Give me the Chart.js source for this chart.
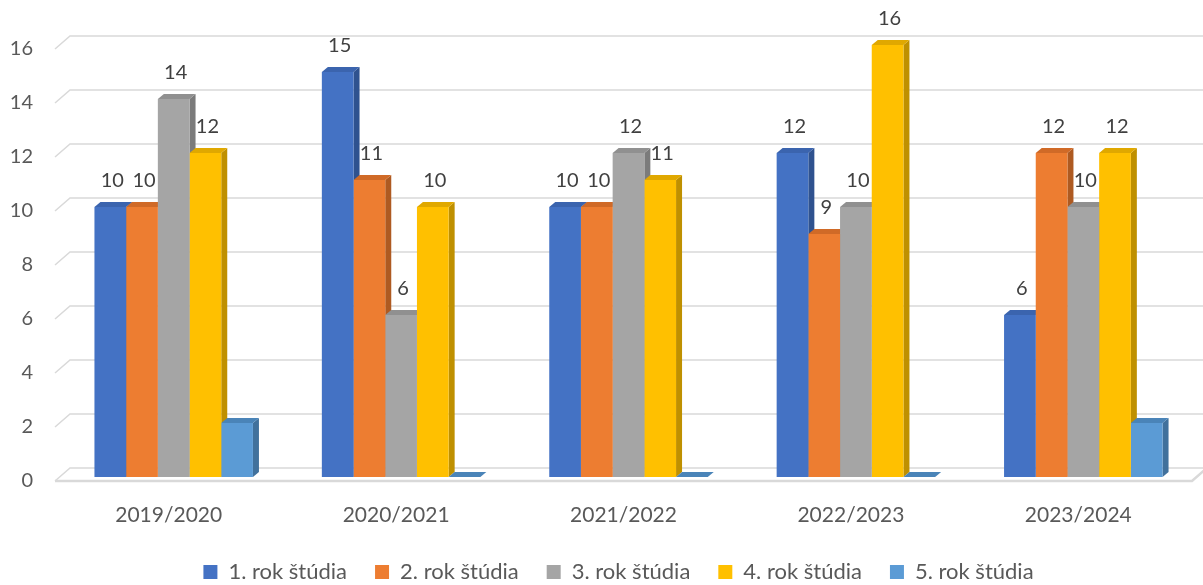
<!DOCTYPE html>
<html>
<head>
<meta charset="utf-8">
<script src="https://cdn.jsdelivr.net/npm/chart.js@4/dist/chart.umd.min.js"></script>
<style>
    html, body { margin: 0; padding: 0; background: #ffffff; }
    #wrap { width: 1203px; height: 585px; }
</style>
</head>
<body>
<div id="wrap"><canvas id="chart" width="1203" height="585"></canvas></div>
<script>
const categories = ['2019/2020', '2020/2021', '2021/2022', '2022/2023', '2023/2024'];
const seriesNames = ['1. rok štúdia', '2. rok štúdia', '3. rok štúdia', '4. rok štúdia', '5. rok štúdia'];
const rok1 = [10, 15, 10, 12, 6];
const rok2 = [10, 11, 10, 9, 12];
const rok3 = [14, 6, 12, 10, 10];
const rok4 = [12, 10, 11, 16, 12];
const rok5 = [2, 0, 0, 0, 2];
const yTicks = [0, 2, 4, 6, 8, 10, 12, 14, 16];

const fronts = ['#4472C4', '#ED7D31', '#A5A5A5', '#FFC000', '#5B9BD5'];
const tops = ['#3B64AE', '#D06A27', '#909090', '#E0A800', '#4A84B8'];
const sides = ['#2F528F', '#AE5A21', '#7B7B7B', '#BF9000', '#41719C'];
// the 5th series has no value labels in the original
const showLabels = [true, true, true, true, false];

// 3d look: bar depth and wall depth
const barDx = 6, barDy = -5;
const wallDx = 15, wallDy = -13;

const wall3d = {
    id: 'wall3d',
    beforeInit(chart) {
        // legend sits lower and tighter than chart.js would place it
        const fit = chart.legend.fit;
        chart.legend.fit = function () {
            fit.call(this);
            this.height = 56;
        };
    },
    afterLayout(chart) {
        // nudge legend a bit right and down
        chart.legend.left += 20;
        chart.legend.right += 20;
        chart.legend.top += 4;
        chart.legend.bottom += 4;
    },
    beforeDatasetsDraw(chart) {
        const ctx = chart.ctx;
        const area = chart.chartArea;
        const y = chart.scales.y;
        ctx.save();
        ctx.strokeStyle = '#D9D9D9';
        ctx.lineWidth = 1.5;
        yTicks.forEach(v => {
            const py = y.getPixelForValue(v) + 4;
            ctx.beginPath();
            ctx.moveTo(area.left - 5, py);
            ctx.lineTo(area.left - 5 + wallDx, py + wallDy);
            ctx.lineTo(chart.width, py + wallDy);
            ctx.stroke();
        });
        // floor front edge
        const p0 = y.getPixelForValue(0) + 4;
        ctx.lineWidth = 2.5;
        ctx.beginPath();
        ctx.moveTo(area.left - 5, p0);
        ctx.lineTo(area.right - 5, p0);
        ctx.lineTo(area.right - 5 + wallDx, p0 + wallDy);
        ctx.stroke();

        // sides and tops of the columns, left to right in each group
        for (let i = 0; i < categories.length; i++) {
            chart.data.datasets.forEach((ds, di) => {
                const bar = chart.getDatasetMeta(di).data[i];
                const left = bar.x - bar.width / 2;
                const right = bar.x + bar.width / 2;
                const top = bar.y;
                const bottom = bar.base;
                ctx.fillStyle = sides[di];
                ctx.beginPath();
                ctx.moveTo(right, top);
                ctx.lineTo(right + barDx, top + barDy);
                ctx.lineTo(right + barDx, bottom + barDy);
                ctx.lineTo(right, bottom);
                ctx.closePath();
                ctx.fill();
                ctx.fillStyle = tops[di];
                ctx.beginPath();
                ctx.moveTo(left, top);
                ctx.lineTo(right, top);
                ctx.lineTo(right + barDx, top + barDy);
                ctx.lineTo(left + barDx, top + barDy);
                ctx.closePath();
                ctx.fill();
            });
        }
        ctx.restore();
    },
    afterDatasetsDraw(chart) {
        const ctx = chart.ctx;
        ctx.save();
        ctx.font = '20px Lato';
        ctx.fillStyle = '#404040';
        ctx.textAlign = 'center';
        ctx.textBaseline = 'middle';
        chart.data.datasets.forEach((ds, di) => {
            if (!showLabels[di]) return;
            chart.getDatasetMeta(di).data.forEach((bar, i) => {
                const v = ds.data[i];
                if (!v) return;
                ctx.fillText(String(v), bar.x + 2, bar.y - 26);
            });
        });
        ctx.restore();
    }
};

const datasets = [rok1, rok2, rok3, rok4, rok5].map((vals, i) => ({
    label: seriesNames[i],
    data: vals,
    backgroundColor: fronts[i],
    borderWidth: 0,
    barPercentage: 1.0,
    categoryPercentage: 0.697
}));

new Chart(document.getElementById('chart'), {
    type: 'bar',
    data: { labels: categories, datasets: datasets },
    plugins: [wall3d],
    options: {
        responsive: false,
        animation: false,
        layout: { padding: { top: 45, right: 6, left: 0, bottom: 0 } },
        scales: {
            x: {
                afterFit: (scale) => { scale.height = 52; },
                grid: { display: false, drawTicks: false },
                border: { display: false },
                ticks: {
                    color: '#595959',
                    font: { family: 'Lato', size: 21 },
                    padding: 26,
                    labelOffset: -5
                }
            },
            y: {
                min: 0,
                max: 16,
                afterBuildTicks: (scale) => { scale.ticks = yTicks.map(v => ({ value: v })); },
                afterFit: (scale) => { scale.width = 60; },
                grid: { display: false, drawTicks: false },
                border: { display: false },
                ticks: {
                    color: '#595959',
                    font: { family: 'Lato', size: 20 },
                    padding: 27,
                    labelOffset: 4
                }
            }
        },
        plugins: {
            tooltip: { enabled: false },
            legend: {
                position: 'bottom',
                labels: {
                    color: '#595959',
                    font: { family: 'Lato', size: 22 },
                    boxWidth: 14,
                    boxHeight: 14,
                    padding: 28
                }
            }
        }
    }
});
</script>
</body>
</html>
